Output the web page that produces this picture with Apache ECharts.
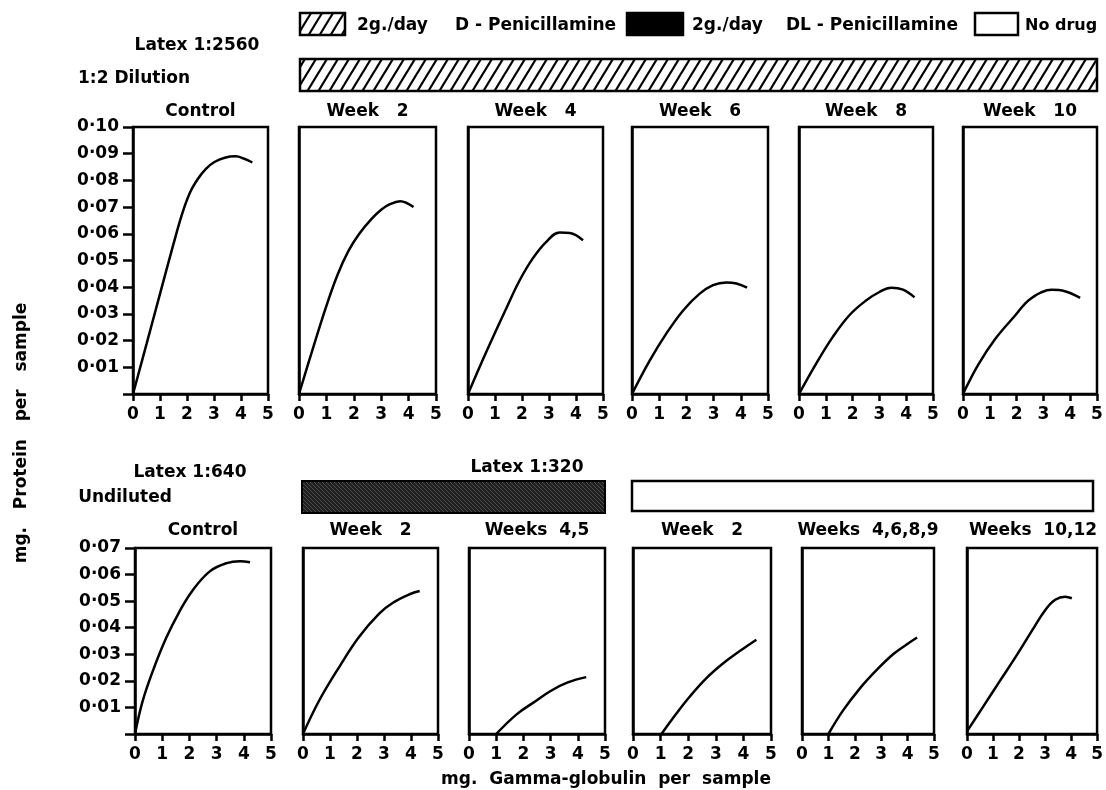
<!DOCTYPE html>
<html>
<head>
<meta charset="utf-8">
<script src="https://cdn.jsdelivr.net/npm/echarts@6/dist/echarts.min.js"></script>
<style>
  html, body { margin: 0; padding: 0; background: #fff; }
  #chart { width: 1106px; height: 790px; }
</style>
</head>
<body>
<div id="chart"></div>
<script>
// ---------------- DATA ----------------
const xTickValues = [0, 1, 2, 3, 4, 5];
const topYTickLabels = ['', '0·01', '0·02', '0·03', '0·04', '0·05', '0·06', '0·07', '0·08', '0·09', '0·10'];
const bottomYTickLabels = ['', '0·01', '0·02', '0·03', '0·04', '0·05', '0·06', '0·07'];

const topTitles = ['Control', 'Week   2', 'Week   4', 'Week   6', 'Week   8', 'Week   10'];
const bottomTitles = ['Control', 'Week   2', 'Weeks  4,5', 'Week   2', 'Weeks  4,6,8,9', 'Weeks  10,12'];

// Latex 1:2560, 1:2 dilution — D-Penicillamine
const topControl = [[0,0],[0.5,0.0187],[1.0,0.0375],[1.5,0.0562],[1.8,0.0668],[2.1,0.0752],[2.4,0.0805],[2.7,0.0843],[3.0,0.0868],[3.4,0.0885],[3.8,0.089],[4.1,0.0882],[4.42,0.0867]];
const topWeek2   = [[0,0],[0.5,0.0168],[1.0,0.0330],[1.4,0.0445],[1.8,0.0535],[2.2,0.0600],[2.64,0.0655],[3.0,0.0690],[3.3,0.0710],[3.69,0.0722],[4.18,0.070]];
const topWeek4   = [[0,0],[0.68,0.0158],[1.42,0.0321],[1.91,0.0425],[2.4,0.0508],[2.9,0.0570],[3.4,0.0605],[3.77,0.0603],[4.26,0.0576]];
const topWeek6   = [[0,0],[0.65,0.0125],[1.26,0.0226],[1.88,0.0313],[2.49,0.0376],[2.98,0.0408],[3.47,0.0418],[3.84,0.0414],[4.23,0.0398]];
const topWeek8   = [[0,0],[0.63,0.0112],[1.25,0.0212],[1.88,0.0295],[2.5,0.035],[3.0,0.0382],[3.44,0.0398],[3.88,0.0391],[4.31,0.0362]];
const topWeek10  = [[0,0],[0.57,0.0110],[1.2,0.0206],[1.96,0.0296],[2.3,0.0337],[2.6,0.0362],[2.9,0.0380],[3.3,0.0390],[3.8,0.0385],[4.37,0.0360]];

// Latex 1:640 undiluted (control), Latex 1:320 — DL-Penicillamine, then no drug
const botControl  = [[0,0],[0.27,0.012],[0.64,0.0233],[1.14,0.036],[1.63,0.046],[2.13,0.0542],[2.75,0.0612],[3.37,0.0643],[3.86,0.065],[4.23,0.0646]];
const botWeek2    = [[0,0],[0.6,0.0126],[1.34,0.0252],[2.08,0.0366],[2.83,0.0454],[3.33,0.0494],[3.95,0.0526],[4.32,0.0538]];
const botWeeks45  = [[1.0,0],[1.75,0.0074],[2.38,0.0119],[3.0,0.0162],[3.63,0.0194],[4.31,0.0214]];
const botNoDrugW2 = [[1.03,0],[1.58,0.0078],[2.06,0.0141],[2.67,0.0211],[3.28,0.0267],[3.88,0.0313],[4.47,0.0355]];
const botNoDrugW4689 = [[1.0,0],[1.55,0.0088],[2.18,0.017],[2.82,0.024],[3.45,0.030],[3.95,0.0336],[4.36,0.0363]];
const botNoDrugW1012 = [[0,0.001],[0.61,0.0101],[1.24,0.0196],[1.87,0.029],[2.51,0.0391],[3.01,0.0467],[3.39,0.0505],[3.77,0.0517],[4.03,0.0511]];

const topSeries = [topControl, topWeek2, topWeek4, topWeek6, topWeek8, topWeek10];
const bottomSeries = [botControl, botWeek2, botWeeks45, botNoDrugW2, botNoDrugW4689, botNoDrugW1012];

// ---------------- LAYOUT ----------------
const topLayout = [[133,135],[299,137],[468,135],[632,136],[799,134],[963,134]];
const bottomLayout = [[135,136],[303,135],[469,136],[633,138],[802,132],[967,132]];
const TOP_ROW = { top: 127, height: 267, max: 0.10, titleY: 112 };
const BOT_ROW = { top: 548, height: 186, max: 0.07, titleY: 531 };

const FONT = '"DejaVu Sans", Verdana, sans-serif';
const LW = 2.5;

const chart = echarts.init(document.getElementById('chart'), null, { renderer: 'canvas' });

const grids = [], xAxes = [], yAxes = [], series = [], graphics = [];

function addPanel(layout, row, data, isControl, labels, title) {
  const idx = grids.length;
  grids.push({
    left: layout[0], width: layout[1], top: row.top, height: row.height,
    show: true, borderColor: '#000', borderWidth: LW, backgroundColor: 'transparent',
    containLabel: false
  });
  xAxes.push({
    type: 'value', gridIndex: idx, min: xTickValues[0], max: xTickValues[xTickValues.length - 1], interval: 1,
    axisLine: { show: true, onZero: false, lineStyle: { color: '#000', width: LW } },
    axisTick: { show: true, length: 7, lineStyle: { color: '#000', width: LW } },
    axisLabel: { show: true, color: '#000', fontSize: 17, fontWeight: 'bold', fontFamily: FONT, margin: 12,
                 formatter: v => String(v) },
    splitLine: { show: false }
  });
  yAxes.push({
    type: 'value', gridIndex: idx, min: 0, max: row.max, interval: 0.01,
    axisLine: { show: true, onZero: false, lineStyle: { color: '#000', width: LW } },
    axisTick: { show: isControl, length: 10, lineStyle: { color: '#000', width: LW } },
    axisLabel: { show: isControl, color: '#000', fontSize: 17, fontWeight: 'bold', fontFamily: FONT, margin: 14,
                 formatter: v => labels[Math.round(v * 100)] || '' },
    splitLine: { show: false }
  });
  series.push({
    type: 'line', xAxisIndex: idx, yAxisIndex: idx, data: data,
    smooth: 0.4, showSymbol: false, symbol: 'none',
    lineStyle: { color: '#000', width: LW }, silent: true
  });
  graphics.push(txt(title, layout[0] + layout[1] / 2, row.titleY, 17));
}

function txt(text, x, y, size, align) {
  return {
    type: 'text', x: x, y: y, silent: true,
    style: {
      text: text, fill: '#000', font: 'bold ' + size + 'px ' + FONT,
      align: align || 'center', verticalAlign: 'middle',
      textAlign: align || 'center', textVerticalAlign: 'middle'
    }
  };
}

for (let i = 0; i < 6; i++) addPanel(topLayout[i], TOP_ROW, topSeries[i], i === 0, topYTickLabels, topTitles[i]);
for (let i = 0; i < 6; i++) addPanel(bottomLayout[i], BOT_ROW, bottomSeries[i], i === 0, bottomYTickLabels, bottomTitles[i]);

// patterns
function hatchTile() {
  const w = 11, h = 18;
  const c = document.createElement('canvas');
  c.width = w; c.height = h;
  const g = c.getContext('2d');
  g.fillStyle = '#fff'; g.fillRect(0, 0, w, h);
  g.strokeStyle = '#000'; g.lineWidth = 2.2;
  for (let k = -1; k <= 1; k++) {
    g.beginPath();
    g.moveTo(-w + k * w, 2 * h);
    g.lineTo(2 * w + k * w, -h);
    g.stroke();
  }
  return c;
}
function darkTile() {
  const w = 4, h = 4;
  const c = document.createElement('canvas');
  c.width = w; c.height = h;
  const g = c.getContext('2d');
  g.fillStyle = '#1e1e1e'; g.fillRect(0, 0, w, h);
  g.strokeStyle = '#5a5a5a'; g.lineWidth = 0.8;
  for (let k = -1; k <= 1; k++) {
    g.beginPath();
    g.moveTo(-w + k * w, -h);
    g.lineTo(2 * w + k * w, 2 * h);
    g.stroke();
  }
  return c;
}
const hatch = { image: hatchTile(), repeat: 'repeat' };
const dark = { image: darkTile(), repeat: 'repeat' };

function box(x, y, w, h, fill, lw) {
  return { type: 'rect', silent: true, shape: { x: x, y: y, width: w, height: h },
           style: { fill: fill, stroke: '#000', lineWidth: lw || LW } };
}

// legend
graphics.push(box(300, 13, 45, 22, hatch));
graphics.push(txt('2g./day', 357, 26, 17, 'left'));
graphics.push(txt('D - Penicillamine', 455, 26, 17, 'left'));
graphics.push(box(627, 13, 56, 22, '#000'));
graphics.push(txt('2g./day', 692, 26, 17, 'left'));
graphics.push(txt('DL - Penicillamine', 786, 26, 17, 'left'));
graphics.push(box(975, 13, 43, 22, '#fff'));
graphics.push(txt('No drug', 1025, 26, 16, 'left'));

// treatment bars
graphics.push(box(300, 59, 797, 32, hatch));
graphics.push(box(302, 481, 303, 32, dark, 2));
graphics.push(box(632, 481, 461, 30, '#fff'));

// row labels
graphics.push(txt('Latex 1:2560', 197, 46, 17));
graphics.push(txt('1:2 Dilution', 134, 79, 17));
graphics.push(txt('Latex 1:640', 190, 473, 17));
graphics.push(txt('Undiluted', 125, 498, 17));
graphics.push(txt('Latex 1:320', 527, 468, 17));

// axis titles
graphics.push(txt('mg.  Gamma-globulin  per  sample', 606, 780, 17));
graphics.push({
  type: 'text', x: 22, y: 433, rotation: Math.PI / 2, silent: true,
  style: { text: 'mg.   Protein   per   sample', fill: '#000', font: 'bold 17px ' + FONT,
           align: 'center', verticalAlign: 'middle', textAlign: 'center', textVerticalAlign: 'middle' }
});

chart.setOption({
  backgroundColor: '#fff',
  animation: false,
  grid: grids,
  xAxis: xAxes,
  yAxis: yAxes,
  series: series,
  graphic: graphics
});
</script>
</body>
</html>
